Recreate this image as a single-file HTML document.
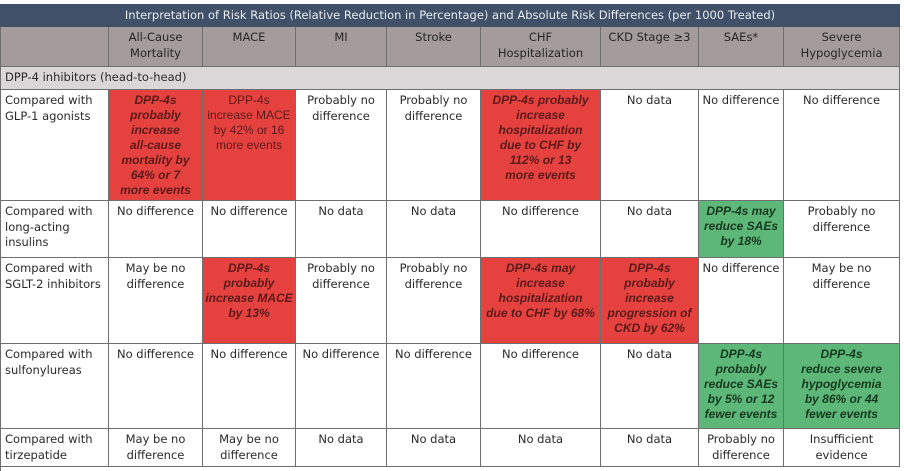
<!DOCTYPE html>
<html><head><meta charset="utf-8"><style>
body{margin:0;background:#fff;width:904px;height:471px;overflow:hidden;font-family:"DejaVu Sans","Liberation Sans",sans-serif;}
.wrap{position:absolute;left:0;top:4px;width:900px;}
table{border-collapse:collapse;table-layout:fixed;width:900px;font-size:11.5px;color:#2a2a2a;line-height:15.5px}
td,th{border:1px solid #6f6f6f;padding:3px 2px 2px 2px;vertical-align:top;text-align:center;font-weight:normal;overflow:hidden}
td>div,th>div{overflow:hidden}
.title td{background:#3f5068;color:#e8ecf0;border-color:#3f5068;padding:2px}
.title div{height:17px;line-height:17px}
.hdr th{background:#a39c9a;color:#262626}
.hdr div{height:34px}
.sec td{background:#d9d7d7;text-align:left;padding-left:4px}
.sec div{height:17px}
.r1 div{height:105px}.r2 div{height:51px}.r3 div{height:80px}.r4 div{height:79px}.r5 div{height:32px}
td.lab{text-align:left;padding-left:4px}
.r,.g{font-family:"Liberation Sans",sans-serif;font-size:12px;font-style:italic;font-weight:bold;white-space:nowrap;line-height:15px}
.r{background:#e5423f;color:#5a1a1a}
.g{background:#5cb779;color:#17381f}
.foot{position:absolute;left:0;top:466px;width:1px;height:5px;background:#6f6f6f}
</style></head><body>
<div class="wrap">
<table>
<colgroup><col style="width:108px"><col style="width:94px"><col style="width:93px"><col style="width:91px"><col style="width:94px"><col style="width:120px"><col style="width:98px"><col style="width:85px"><col style="width:116px"></colgroup>
<tr class="title"><td colspan="9"><div>Interpretation of Risk Ratios (Relative Reduction in Percentage) and Absolute Risk Differences (per 1000 Treated)</div></td></tr>
<tr class="hdr"><th><div></div></th><th><div>All-Cause Mortality</div></th><th><div>MACE</div></th><th><div>MI</div></th><th><div>Stroke</div></th><th><div>CHF<br>Hospitalization</div></th><th><div>CKD Stage ≥3</div></th><th><div>SAEs*</div></th><th><div>Severe Hypoglycemia</div></th></tr>
<tr class="sec"><td colspan="9"><div>DPP-4 inhibitors (head-to-head)</div></td></tr>
<tr class="r1"><td class="lab"><div>Compared with GLP-1 agonists</div></td><td class="r"><div>DPP-4s<br>probably<br>increase<br>all-cause<br>mortality by<br>64% or 7<br>more events</div></td><td class="r" style="font-style:normal;font-weight:normal"><div>DPP-4s<br>increase MACE<br>by 42% or 16<br>more events</div></td><td><div>Probably no difference</div></td><td><div>Probably no difference</div></td><td class="r"><div>DPP-4s probably<br>increase<br>hospitalization<br>due to CHF by<br>112% or 13<br>more events</div></td><td><div>No data</div></td><td><div>No difference</div></td><td><div>No difference</div></td></tr>
<tr class="r2"><td class="lab"><div>Compared with long-acting insulins</div></td><td><div>No difference</div></td><td><div>No difference</div></td><td><div>No data</div></td><td><div>No data</div></td><td><div>No difference</div></td><td><div>No data</div></td><td class="g"><div>DPP-4s may<br>reduce SAEs<br>by 18%</div></td><td><div>Probably no difference</div></td></tr>
<tr class="r3"><td class="lab"><div>Compared with SGLT-2 inhibitors</div></td><td><div>May be no difference</div></td><td class="r"><div>DPP-4s<br>probably<br>increase MACE<br>by 13%</div></td><td><div>Probably no difference</div></td><td><div>Probably no difference</div></td><td class="r"><div>DPP-4s may<br>increase<br>hospitalization<br>due to CHF by 68%</div></td><td class="r"><div>DPP-4s<br>probably<br>increase<br>progression of<br>CKD by 62%</div></td><td><div>No difference</div></td><td><div>May be no difference</div></td></tr>
<tr class="r4"><td class="lab"><div>Compared with sulfonylureas</div></td><td><div>No difference</div></td><td><div>No difference</div></td><td><div>No difference</div></td><td><div>No difference</div></td><td><div>No difference</div></td><td><div>No data</div></td><td class="g"><div>DPP-4s<br>probably<br>reduce SAEs<br>by 5% or 12<br>fewer events</div></td><td class="g"><div>DPP-4s<br>reduce severe<br>hypoglycemia<br>by 86% or 44<br>fewer events</div></td></tr>
<tr class="r5"><td class="lab"><div>Compared with tirzepatide</div></td><td><div>May be no difference</div></td><td><div>May be no difference</div></td><td><div>No data</div></td><td><div>No data</div></td><td><div>No data</div></td><td><div>No data</div></td><td><div>Probably no difference</div></td><td><div>Insufficient evidence</div></td></tr>
</table>
</div>
<div class="foot"></div>
</body></html>
